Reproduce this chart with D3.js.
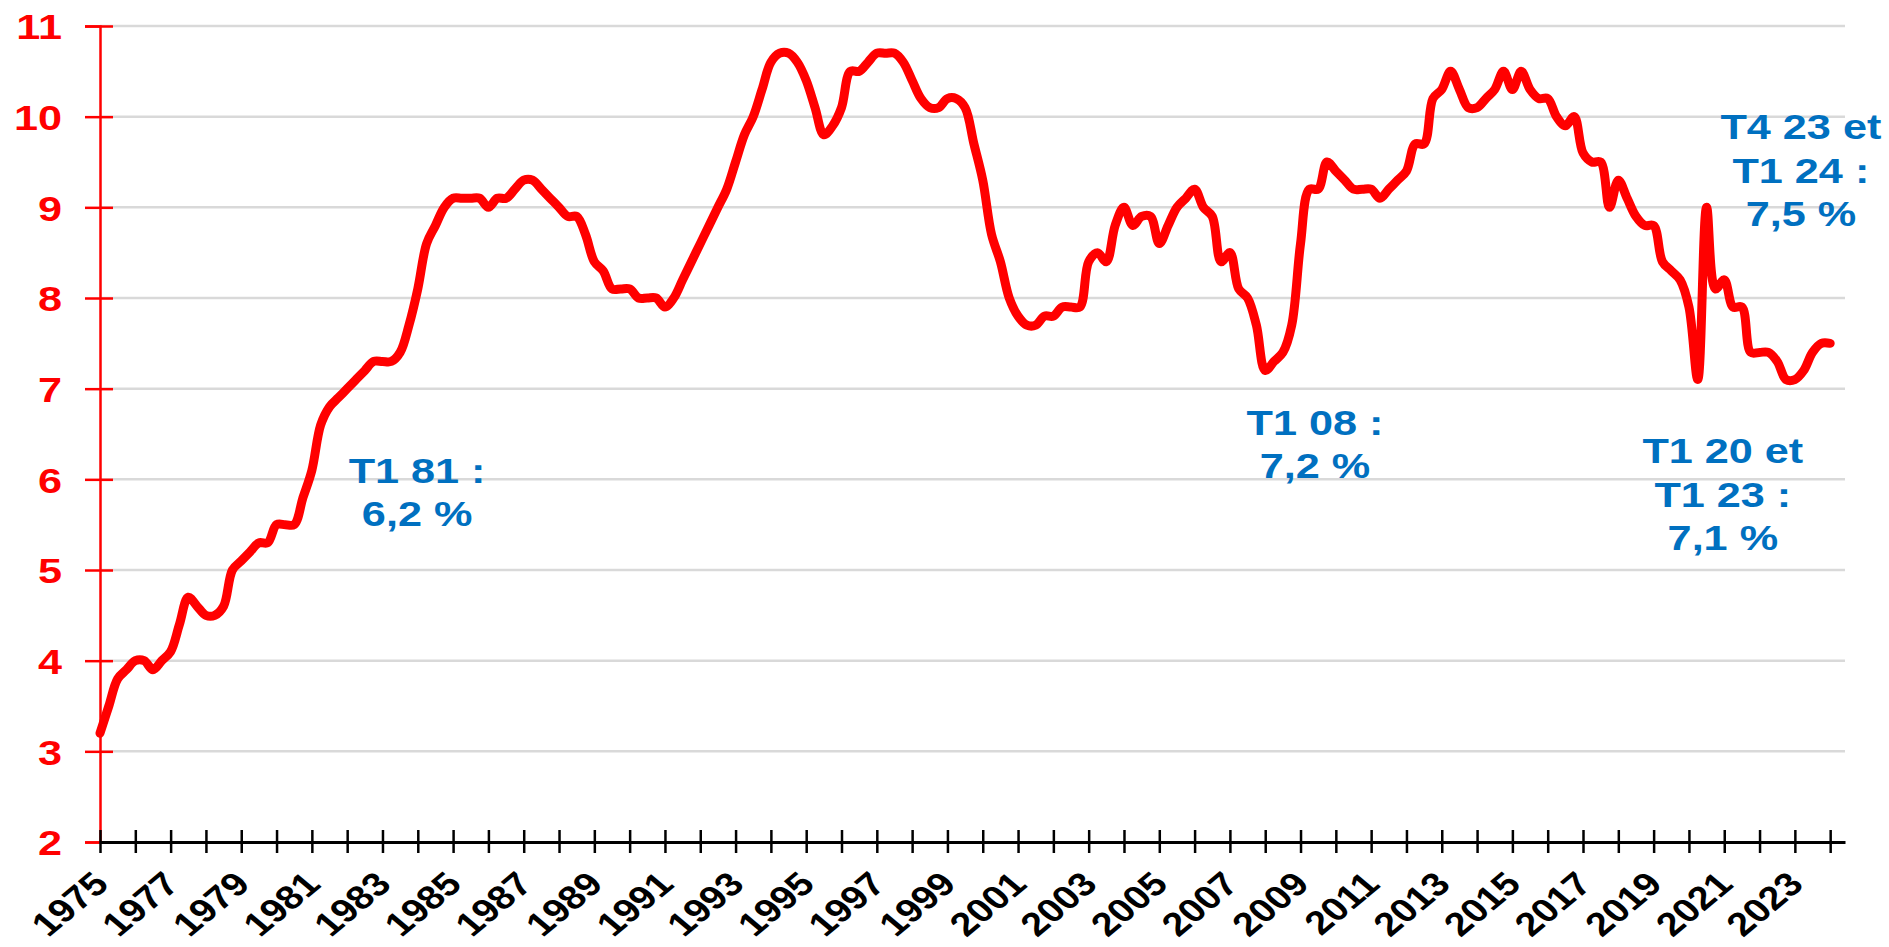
<!DOCTYPE html>
<html>
<head>
<meta charset="utf-8">
<script src="https://cdn.jsdelivr.net/npm/d3@7"></script>
<style>
  body { margin: 0; background: #fff; }
  svg { display: block; }
</style>
</head>
<body>
<div id="chart"></div>
<script>
// quarterly rate (%), T1 1975 -> T1 2024
var startYear = 1975;
var rate1975 = [3.2, 3.5, 3.8, 3.9,  4.0, 4.0, 3.9, 4.0,  4.1, 4.4, 4.7, 4.6,  4.5, 4.5, 4.6, 5.0,
                5.1, 5.2, 5.3, 5.3,  5.5, 5.5, 5.5, 5.8,  6.1, 6.6, 6.8, 6.9,  7.0, 7.1, 7.2, 7.3,
                7.3, 7.3, 7.4, 7.7,  8.1, 8.6, 8.8, 9.0];
var rate1985 = [9.1, 9.1, 9.1, 9.1,  9.0, 9.1, 9.1, 9.2,  9.3, 9.3, 9.2, 9.1,  9.0, 8.9, 8.9, 8.7,
                8.4, 8.3, 8.1, 8.1,  8.1, 8.0, 8.0, 8.0,  7.9, 8.0, 8.2, 8.4,  8.6, 8.8, 9.0, 9.2,
                9.5, 9.8, 10.0, 10.3,  10.6, 10.7, 10.7, 10.6];
var rate1995 = [10.4, 10.1, 9.8, 9.9,  10.1, 10.5, 10.5, 10.6,  10.7, 10.7, 10.7, 10.6,  10.4, 10.2, 10.1, 10.1,
                10.2, 10.2, 10.1, 9.7,  9.3, 8.7, 8.4, 8.0,  7.8, 7.7, 7.7, 7.8,  7.8, 7.9, 7.9, 7.9,
                8.4, 8.5, 8.4, 8.8,  9.0, 8.8, 8.9, 8.9];
var rate2005 = [8.6, 8.8, 9.0, 9.1,  9.2, 9.0, 8.9, 8.4,  8.5, 8.1, 8.0, 7.7,  7.2, 7.3, 7.4, 7.7,
                8.6, 9.2, 9.2, 9.5,  9.4, 9.3, 9.2, 9.2,  9.2, 9.1, 9.2, 9.3,  9.4, 9.7, 9.7, 10.2,
                10.3, 10.5, 10.3, 10.1,  10.1, 10.2, 10.3, 10.5];
var rate2015 = [10.3, 10.5, 10.3, 10.2,  10.2, 10.0, 9.9, 10.0,  9.6, 9.5, 9.5, 9.0,  9.3, 9.1, 8.9, 8.8,
                8.8, 8.4, 8.3, 8.2,  7.9, 7.1, 9.0, 8.1,  8.2, 7.9, 7.9, 7.4,  7.4, 7.4, 7.3, 7.1,
                7.1, 7.2, 7.4, 7.5,  7.5];

var yTicks = [2, 3, 4, 5, 6, 7, 8, 9, 10, 11];
var yearTicks = d3.range(1975, 2025);
var yearLabels = d3.range(1975, 2024, 2);

// annotations : lines of text + anchor (year, value) of the first line
var noteLines = [["T1 81 :", "6,2 %"],
                 ["T1 08 :", "7,2 %"],
                 ["T1 20 et", "T1 23 :", "7,1 %"],
                 ["T4 23 et", "T1 24 :", "7,5 %"]];
var noteAt = [[1983.98, 5.96], [2009.41, 6.49], [2020.96, 6.18], [2023.17, 9.75]];

var FONT = '"Liberation Sans", Arial, sans-serif';

(function () {
  var width = 1889, height = 947;
  var stretch = 1.2; // text looks widened in the original

  var rate = [].concat(rate1975, rate1985, rate1995, rate2005, rate2015);
  var points = rate.map(function (v, i) { return { t: startYear + i / 4, v: v }; });

  var svg = d3.select("#chart").append("svg")
      .attr("width", width)
      .attr("height", height);

  var x = d3.scaleLinear().domain([1975, 2024.42]).range([100, 1845]);
  var y = d3.scaleLinear().domain([2, 11]).range([842, 26]);

  // horizontal grid
  svg.append("g").selectAll("line")
      .data(yTicks.slice(1))
      .enter().append("line")
      .attr("x1", x.range()[0]).attr("x2", x.range()[1])
      .attr("y1", y).attr("y2", y)
      .attr("stroke", "#d9d9d9")
      .attr("stroke-width", 2.5);

  // y axis (red)
  var gy = svg.append("g")
      .attr("transform", "translate(" + x(1975) + ",0)")
      .call(d3.axisLeft(y).tickValues(yTicks).tickSizeOuter(0).tickSize(15).tickPadding(0));
  gy.attr("font-family", FONT).attr("font-size", 36).attr("font-weight", "bold");
  gy.select(".domain").attr("stroke", "#ff0000").attr("stroke-width", 2.5);
  gy.selectAll(".tick line")
      .attr("x1", -15).attr("x2", 13)
      .attr("stroke", "#ff0000").attr("stroke-width", 2.5);
  gy.selectAll(".tick text")
      .attr("x", -38 / stretch)
      .attr("dy", "0.36em")
      .attr("transform", "scale(" + stretch + ",1)")
      .attr("fill", "#ff0000");

  // x axis (black), one tick per year, label every two years
  var gx = svg.append("g")
      .attr("transform", "translate(0," + y(2) + ")")
      .call(d3.axisBottom(x).tickValues(yearTicks).tickSizeOuter(0)
        .tickFormat(function (d) { return yearLabels.indexOf(d) >= 0 ? d : ""; }));
  gx.attr("font-family", FONT).attr("font-size", 33).attr("font-weight", "bold");
  gx.select(".domain").attr("stroke", "#000").attr("stroke-width", 3);
  gx.selectAll(".tick line")
      .attr("y1", -12).attr("y2", 11)
      .attr("stroke", "#000").attr("stroke-width", 2.5);
  gx.selectAll(".tick text")
      .attr("y", 0).attr("dy", 0)
      .attr("transform", "translate(10,44) scale(" + stretch + ",1) rotate(-45)")
      .attr("text-anchor", "end")
      .attr("fill", "#000");

  // the series (smoothed, like the original)
  var valueline = d3.line()
      .curve(d3.curveCatmullRom.alpha(0.5))
      .x(function (d) { return x(d.t); })
      .y(function (d) { return y(d.v); });

  svg.append("path")
      .datum(points)
      .attr("fill", "none")
      .attr("stroke", "#ff0000")
      .attr("stroke-width", 9)
      .attr("stroke-linejoin", "round")
      .attr("stroke-linecap", "round")
      .attr("d", valueline);

  // blue notes
  noteLines.forEach(function (lines, k) {
    var cx = x(noteAt[k][0]), cy = y(noteAt[k][1]);
    lines.forEach(function (txt, j) {
      svg.append("text")
          .attr("transform", "translate(" + cx + "," + (cy + j * 43.5) + ") scale(" + stretch + ",1)")
          .attr("text-anchor", "middle")
          .attr("font-family", FONT)
          .attr("font-size", 36)
          .attr("font-weight", "bold")
          .attr("fill", "#0070c0")
          .text(txt);
    });
  });
})();
</script>
</body>
</html>
